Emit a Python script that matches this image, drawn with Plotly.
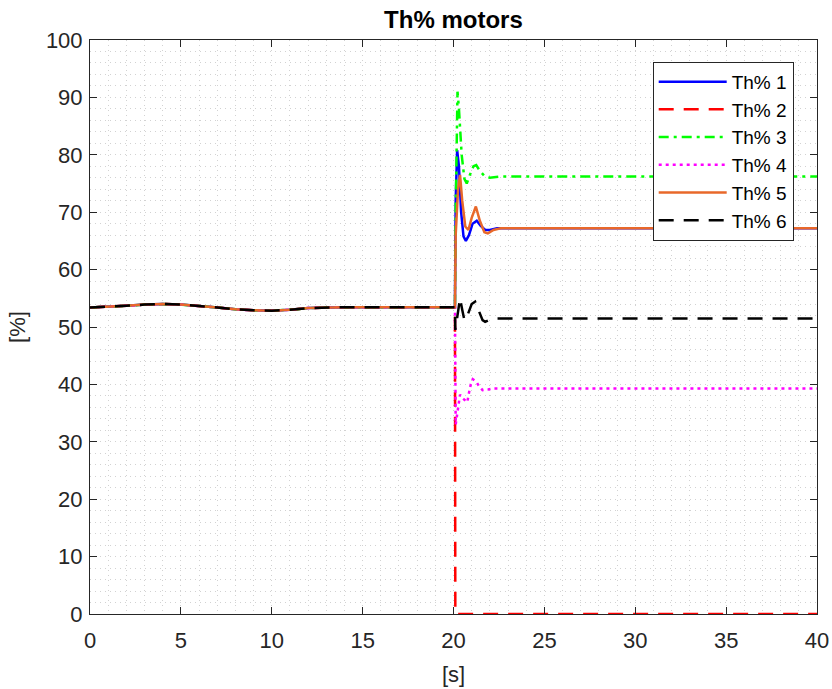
import plotly.graph_objects as go

# Common history before the event at t = 20 s (all six motors share it)
t_pre = [0, 1, 2, 3, 4, 5, 6, 7, 8, 9, 10, 11, 12, 13, 14, 16, 18, 20.08]
v_pre = [53.4, 53.5, 53.7, 53.9, 54.0, 53.9, 53.7, 53.4, 53.1, 52.9,
         52.85, 53.0, 53.3, 53.4, 53.45, 53.45, 53.45, 53.45]

# Response of each motor after the event
t1 = [20.12, 20.2, 20.3, 20.42, 20.55, 20.68, 20.85, 21.05, 21.28, 21.5, 21.75, 22.0, 22.4, 23.0, 40]
v1 = [72.0, 80.8, 78.0, 70.0, 65.8, 65.0, 66.0, 68.0, 68.5, 67.6, 66.9, 66.9, 67.2, 67.2, 67.2]

t2 = [20.1, 40]
v2 = [0.0, 0.0]

t3 = [20.12, 20.18, 20.22, 20.3, 20.45, 20.6, 20.73, 20.9, 21.1, 21.25, 21.45, 21.7, 22.0, 22.5, 40]
v3 = [70.0, 88.0, 91.0, 88.0, 80.0, 75.8, 75.0, 76.5, 78.0, 78.2, 77.2, 76.3, 76.0, 76.2, 76.2]

t4 = [20.12, 20.18, 20.28, 20.36, 20.5, 20.65, 20.76, 20.85, 20.95, 21.06, 21.25, 21.4, 21.6, 21.9, 22.2, 40]
v4 = [33.0, 34.5, 37.2, 38.2, 37.6, 37.1, 36.9, 38.5, 40.0, 40.9, 40.5, 39.7, 39.0, 39.1, 39.3, 39.3]

t5 = [20.12, 20.25, 20.36, 20.48, 20.65, 20.82, 21.0, 21.23, 21.45, 21.7, 21.89, 22.2, 22.6, 40]
v5 = [66.0, 74.0, 76.5, 72.0, 67.5, 66.9, 69.0, 71.0, 68.5, 66.5, 66.3, 66.9, 67.2, 67.2]

t6 = [20.1, 20.2, 20.36, 20.48, 20.6, 20.8, 21.0, 21.19, 21.4, 21.6, 21.74, 22.0, 22.4, 40]
v6 = [49.5, 51.5, 55.0, 53.0, 51.2, 52.3, 54.0, 54.4, 52.8, 51.2, 50.9, 51.3, 51.5, 51.5]

names = ["Th% 1", "Th% 2", "Th% 3", "Th% 4", "Th% 5", "Th% 6"]
colors = ["#0000FF", "#FF0000", "#00FF00", "#FF00FF", "#E8682A", "#000000"]
dashes = ["solid", "15px,10px", "10px,5px,3px,5px", "3px,4px", "solid", "15px,10px"]
post = [(t1, v1), (t2, v2), (t3, v3), (t4, v4), (t5, v5), (t6, v6)]

FONT = "Liberation Sans, Arial, Helvetica"
AXIS_COL = "#262626"
GRID_COL = "#d2d2d2"
GRID_DASH = "1px,4px"

fig = go.Figure()
for name, col, dash, (tp, vp) in zip(names, colors, dashes, post):
    fig.add_trace(go.Scatter(
        x=t_pre + tp, y=v_pre + vp, mode="lines", name=name,
        line=dict(color=col, width=2.5, dash=dash),
    ))

axis_common = dict(
    showline=True, linecolor=AXIS_COL, linewidth=1, mirror="ticks",
    ticks="inside", ticklen=7, tickcolor=AXIS_COL, tickwidth=1,
    showgrid=True, gridcolor=GRID_COL, griddash=GRID_DASH, gridwidth=1,
    zeroline=False, automargin=False,
    tickfont=dict(family=FONT, size=22, color=AXIS_COL),
)

fig.update_xaxes(
    range=[0, 40], dtick=5, tick0=0, ticklabelstandoff=7,
    minor=dict(dtick=1, showgrid=True, gridcolor=GRID_COL, griddash=GRID_DASH, gridwidth=1),
    title=dict(text="[s]", font=dict(family=FONT, size=22, color=AXIS_COL), standoff=14),
    **axis_common,
)
fig.update_yaxes(
    range=[0, 100], dtick=10, tick0=0, ticklabelstandoff=2,
    minor=dict(dtick=2, showgrid=True, gridcolor=GRID_COL, griddash=GRID_DASH, gridwidth=1),
    title=dict(text="[%]", font=dict(family=FONT, size=22, color=AXIS_COL), standoff=14),
    **axis_common,
)

fig.update_layout(
    width=832, height=689,
    margin=dict(l=90, r=15, t=40, b=75, autoexpand=False),
    paper_bgcolor="white", plot_bgcolor="white",
    title=dict(text="<b>Th% motors</b>", x=0.545, xanchor="center", y=0.971, yanchor="middle",
               font=dict(family=FONT, size=24, color="#000000")),
    legend=dict(
        x=0.774, y=0.962, xanchor="left", yanchor="top",
        bgcolor="white", bordercolor=AXIS_COL, borderwidth=1,
        font=dict(family=FONT, size=19, color="#000000"),
        itemwidth=68,
    ),
    showlegend=True,
)

fig.write_html("out.html")
